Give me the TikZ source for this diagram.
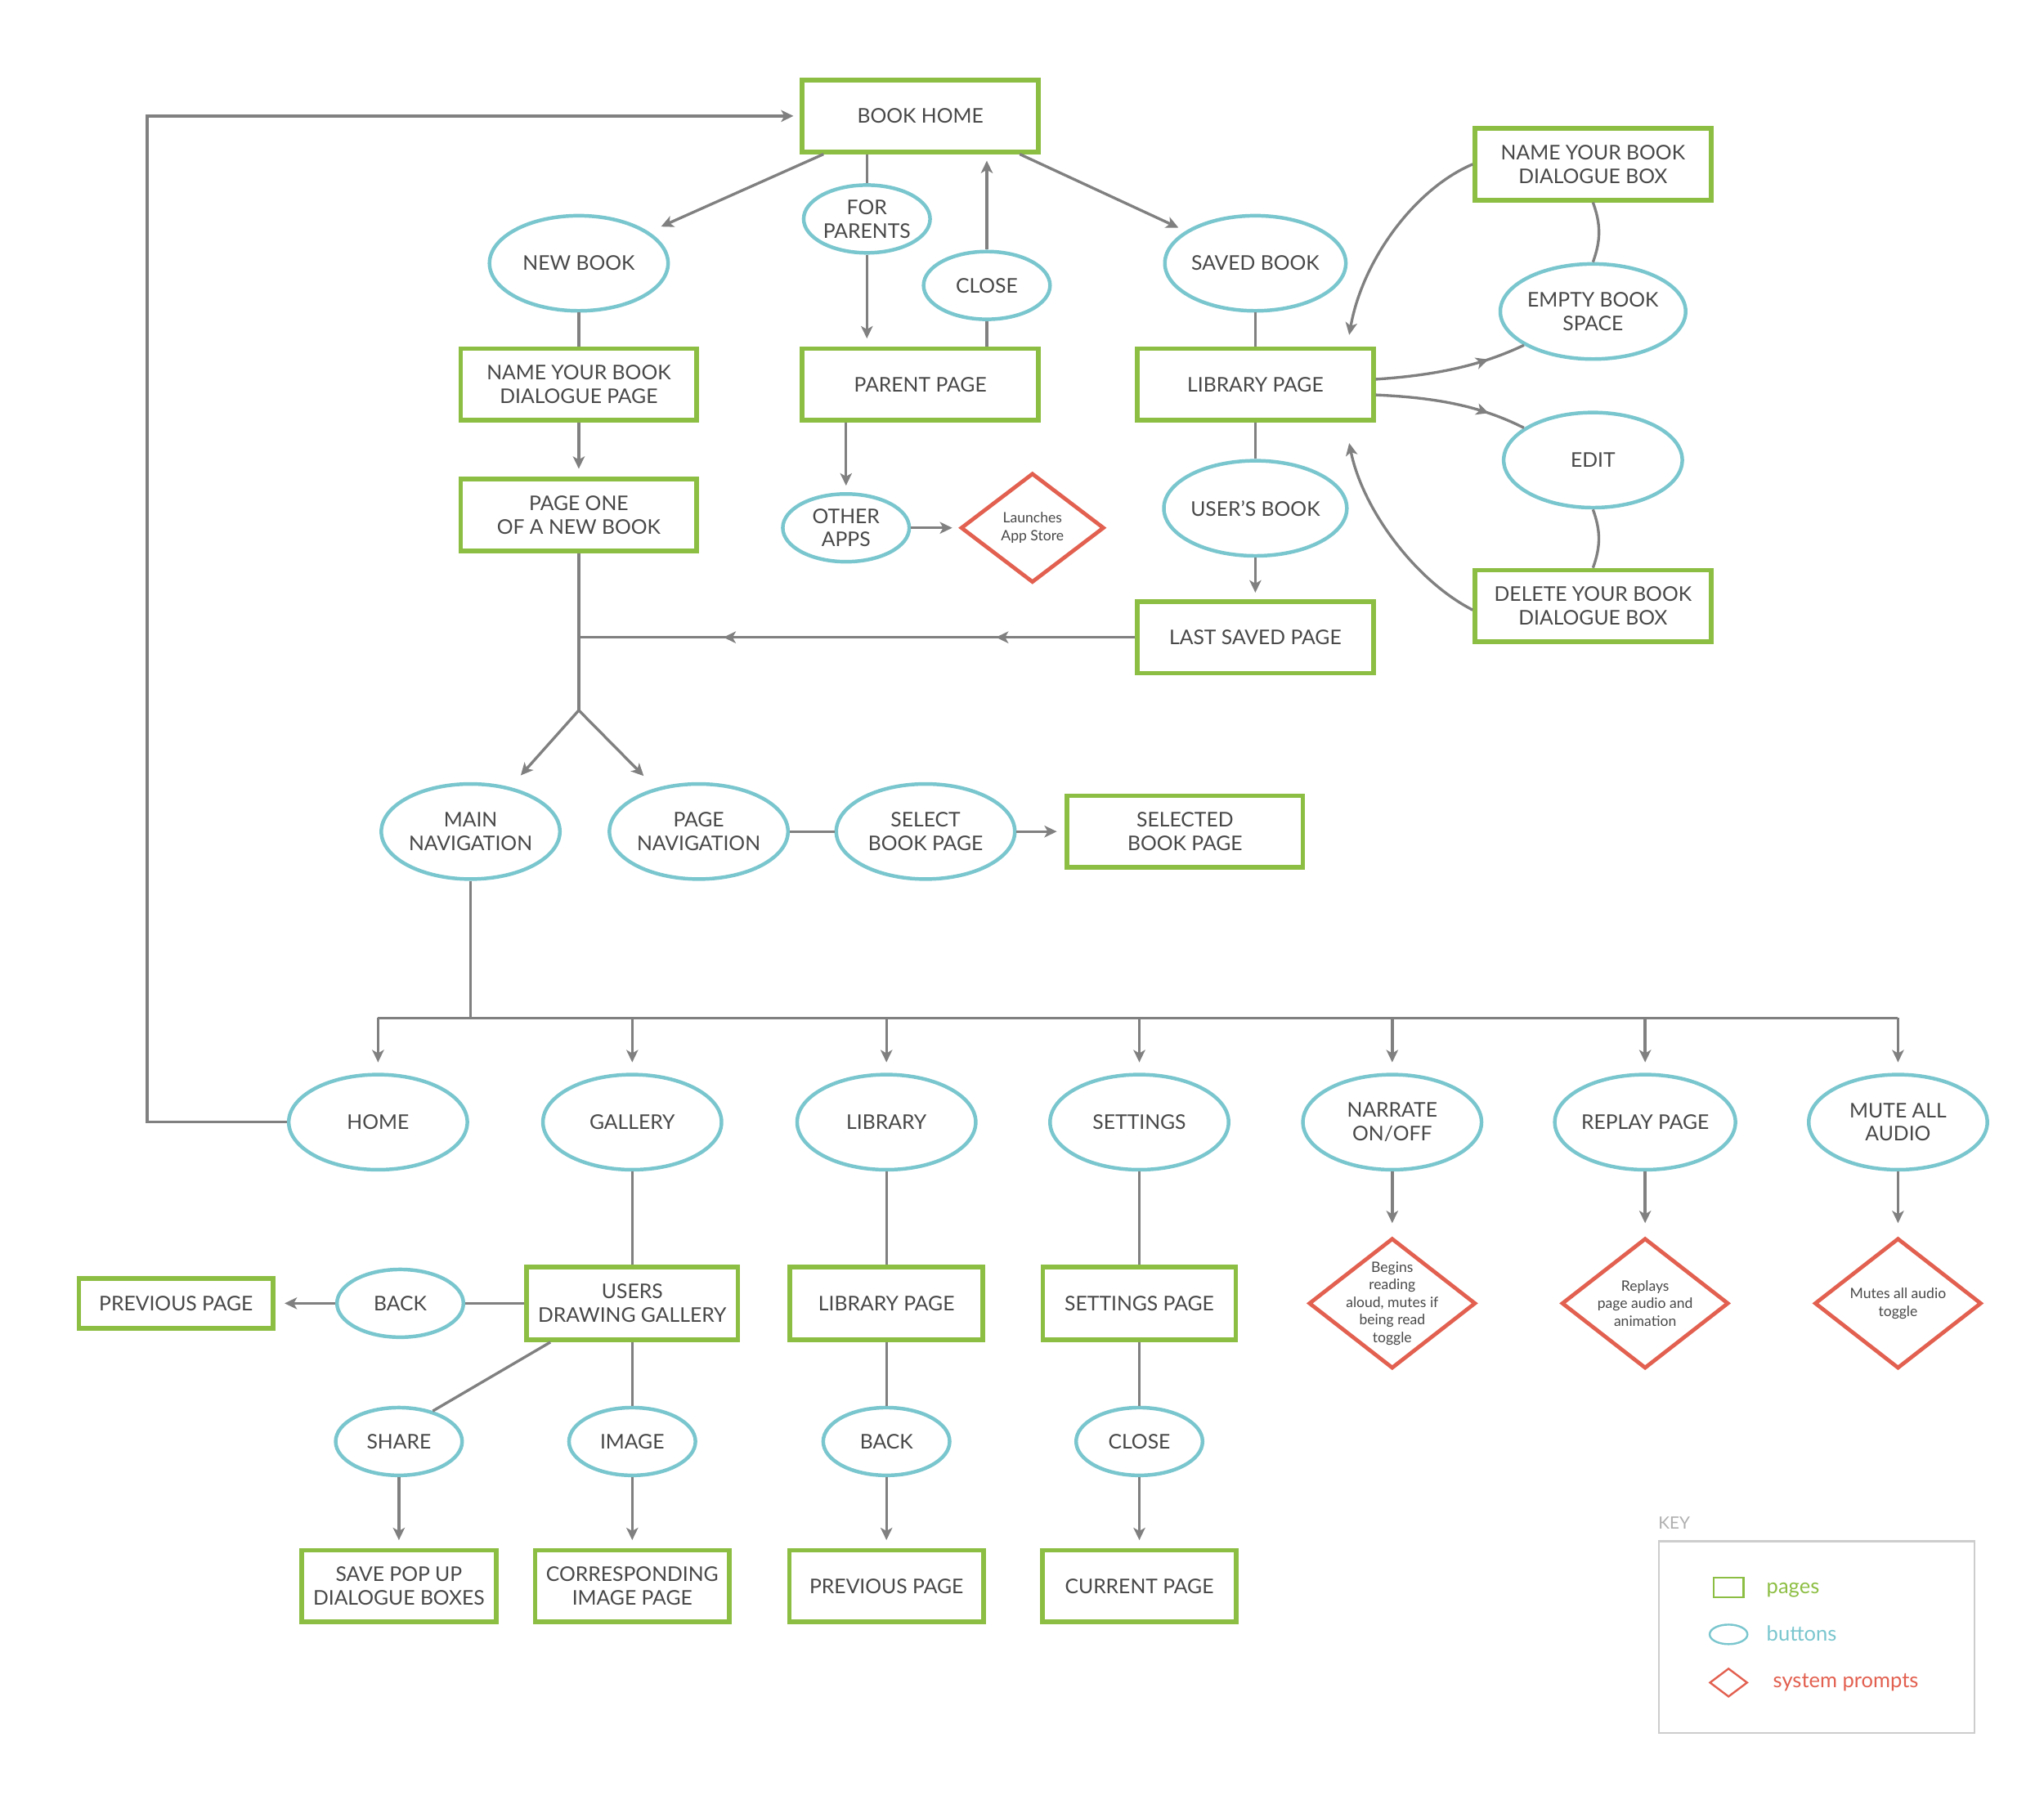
\documentclass[tikz,border=0pt]{standalone}
\usepackage{fontspec}
\setmainfont{Lato}
\usetikzlibrary{shapes.geometric,arrows.meta,decorations.markings,calc}
\definecolor{pgreen}{RGB}{141,190,68}
\definecolor{bblue}{RGB}{122,198,206}
\definecolor{sred}{RGB}{226,96,80}
\definecolor{cgray}{RGB}{128,128,128}
\definecolor{tgray}{RGB}{72,72,72}
\definecolor{kgray}{RGB}{205,205,205}
\definecolor{ktgray}{RGB}{175,175,175}
\newcommand{\mytip}{\arrow[cgray]{Stealth[length=9.5pt,width=9pt,inset=2.5pt]}}
\begin{document}
\begin{tikzpicture}[x=1pt,y=-1pt,
  lbl/.style={text=tgray, font=\fontsize{15.5}{18}\selectfont, align=center, inner sep=0pt},
  page/.style={lbl, draw=pgreen, line width=3.6pt, rectangle, minimum width=181pt, minimum height=55pt},
  btn/.style={lbl, draw=bblue, line width=2.8pt, ellipse, minimum width=137pt, minimum height=73pt},
  sbtn/.style={btn, minimum width=97pt, minimum height=52pt},
  prompt/.style={draw=sred, line width=3pt, diamond, inner sep=0pt},
  bigprompt/.style={prompt, minimum width=128pt, minimum height=100pt},
  ptext/.style={lbl, font=\fontsize{11}{13.5}\selectfont},
  conn/.style={draw=cgray, line width=2.1pt},
  arr/.style={conn, -{Stealth[length=9.5pt,width=9pt,inset=2.5pt]}},
  midarrow/.style={postaction={decorate}, decoration={markings, mark=at position #1 with {\mytip}}},
  twoarrows/.style={postaction={decorate}, decoration={markings, mark=at position 0.25 with {\mytip}, mark=at position 0.74 with {\mytip}}},
]
\useasboundingbox (0,0) rectangle (1568,1381);

% ---------- top part ----------
\node[page] (bh) at (706,89) {BOOK HOME};
\node[btn] (nb) at (444,202) {NEW BOOK};
\node[sbtn] (fp) at (665,168) {FOR\\PARENTS};
\node[sbtn] (cl) at (757,219) {CLOSE};
\node[btn] (sb) at (963,202) {SAVED BOOK};
\node[page] (nydp) at (444,295) {NAME YOUR BOOK\\DIALOGUE PAGE};
\node[page] (pp) at (706,295) {PARENT PAGE};
\node[page] (lp) at (963,295) {LIBRARY PAGE};
\node[page] (nybb) at (1222,126) {NAME YOUR BOOK\\DIALOGUE BOX};
\node[btn] (ebs) at (1222,239) {EMPTY BOOK\\SPACE};
\node[btn] (ed) at (1222,353) {EDIT};
\node[page] (dybb) at (1222,465) {DELETE YOUR BOOK\\DIALOGUE BOX};
\node[page] (p1) at (444,395) {PAGE ONE\\OF A NEW BOOK};
\node[sbtn] (oa) at (649,405) {OTHER\\APPS};
\node[prompt, minimum width=110pt, minimum height=84pt] (las) at (792,405) {};
\node[ptext] (lastxt) at (las) {Launches\\App Store};
\node[btn] (ub) at (963,390) {USER’S BOOK};
\node[page] (lsp) at (963,489) {LAST SAVED PAGE};

% ---------- navigation ----------
\node[btn] (mn) at (361,638) {MAIN\\NAVIGATION};
\node[btn] (pn) at (536,638) {PAGE\\NAVIGATION};
\node[btn] (sbp) at (710,638) {SELECT\\BOOK PAGE};
\node[page] (sdbp) at (909,638) {SELECTED\\BOOK PAGE};

% ---------- bottom buttons ----------
\node[btn] (home) at (290,861) {HOME};
\node[btn] (gal) at (485,861) {GALLERY};
\node[btn] (lib) at (680,861) {LIBRARY};
\node[btn] (set) at (874,861) {SETTINGS};
\node[btn] (nar) at (1068,861) {NARRATE\\ON/OFF};
\node[btn] (rep) at (1262,861) {REPLAY PAGE};
\node[btn] (mute) at (1456,861) {MUTE ALL\\AUDIO};

\node[page, minimum width=162pt, minimum height=56pt] (udg) at (485,1000) {USERS\\DRAWING GALLERY};
\node[page, minimum width=148pt, minimum height=56pt] (lpg) at (680,1000) {LIBRARY PAGE};
\node[page, minimum width=148pt, minimum height=56pt] (spg) at (874,1000) {SETTINGS PAGE};
\node[bigprompt] (d1) at (1068,1000) {};
\node[ptext] (d1t) at (d1) {Begins\\reading\\aloud, mutes if\\being read\\toggle};
\node[bigprompt] (d2) at (1262,1000) {};
\node[ptext] (d2t) at (d2) {Replays\\page audio and\\animation};
\node[bigprompt] (d3) at (1456,1000) {};
\node[ptext] (d3t) at (d3) {Mutes all audio\\toggle};
\node[sbtn] (bk1) at (307,1000) {BACK};
\node[page, minimum width=149pt, minimum height=38pt] (pv1) at (135,1000) {PREVIOUS PAGE};
\node[sbtn] (sh) at (306,1106) {SHARE};
\node[sbtn] (im) at (485,1106) {IMAGE};
\node[sbtn] (bk2) at (680,1106) {BACK};
\node[sbtn] (cl2) at (874,1106) {CLOSE};
\node[page, minimum width=149pt] (spu) at (306,1217) {SAVE POP UP\\DIALOGUE BOXES};
\node[page, minimum width=149pt] (cip) at (485,1217) {CORRESPONDING\\IMAGE PAGE};
\node[page, minimum width=149pt] (pv2) at (680,1217) {PREVIOUS PAGE};
\node[page, minimum width=149pt] (cur) at (874,1217) {CURRENT PAGE};

% ---------- key ----------
\node[draw=kgray, line width=1.5pt, minimum width=242pt, minimum height=147pt, inner sep=0pt] (key) at (1393.5,1256) {};
\node[text=ktgray, font=\fontsize{13}{15}\selectfont, anchor=base west, inner sep=0pt] (keyt) at (1272,1173) {KEY};
\node[draw=pgreen, line width=1.5pt, minimum width=23pt, minimum height=15pt, inner sep=0pt] (kp) at (1326,1218) {};
\node[draw=bblue, ellipse, line width=1.5pt, minimum width=29pt, minimum height=15pt, inner sep=0pt] (kb) at (1326,1254) {};
\node[draw=sred, diamond, line width=1.5pt, minimum width=29pt, minimum height=22pt, inner sep=0pt] (ks) at (1326,1291) {};
\node[text=pgreen, font=\fontsize{16}{18}\selectfont, anchor=base west, inner sep=0pt] (kpt) at (1355,1223) {pages};
\node[text=bblue, font=\fontsize{16}{18}\selectfont, anchor=base west, inner sep=0pt] (kbt) at (1355,1259) {buttons};
\node[text=sred, font=\fontsize{16}{18}\selectfont, anchor=base west, inner sep=0pt] (kst) at (1360,1295) {system prompts};

% ---------- connectors: top ----------
\draw[arr, shorten >=10pt] ([xshift=18pt]bh.south west) -- (nb);
\draw[arr, shorten >=6pt] ([xshift=-16pt]bh.south east) -- (sb);
\draw[conn] (fp.north) -- (fp.north |- bh.south);
\draw[arr, shorten >=6pt] (fp.south) -- (fp.south |- pp.north);
\draw[conn] (cl.south) -- (cl.south |- pp.north);
\draw[arr, shorten >=5pt] (cl.north) -- (cl.north |- bh.south);
\draw[conn] (nb.south) -- (nydp.north);
\draw[arr, shorten >=6pt] (nydp.south) -- (p1.north);
\draw[arr, shorten >=5pt] (oa.north |- pp.south) -- (oa.north);
\draw[arr, shorten >=5pt] (oa.east) -- (las.west);
\draw[conn] (sb.south) -- (lp.north);
\draw[conn] (lp.south) -- (ub.north);
\draw[arr, shorten >=5pt] (ub.south) -- (lsp.north);

% right side curves
\coordinate (c1) at (1035,257);
\coordinate (c2) at (1035,340);
\draw[arr] (nybb.west) .. controls (1085,145) and (1045,200) .. (c1);
\draw[arr] ([yshift=-3pt]dybb.west) .. controls (1085,445) and (1045,390) .. (c2);
\draw[conn] (nybb.south) to[bend left=20] (ebs.north);
\draw[conn] (ed.south) to[bend left=20] (dybb.north);
\draw[conn, midarrow=0.75] ([yshift=4pt]lp.east) .. controls (1100,288) and (1135,281) .. (ebs.206);
\draw[conn, midarrow=0.75] ([yshift=-8pt]lp.east) .. controls (1100,305) and (1135,311) .. (ed.155);

% last saved page back to main flow
\coordinate (j1) at (p1.south |- lsp.west);
\coordinate (j2) at (444,545);
\draw[conn] (p1.south) -- (j2);
\draw[conn, twoarrows] (lsp.west) -- (j1);
\draw[arr, shorten >=12pt] (j2) -- (mn);
\draw[arr, shorten >=13pt] (j2) -- (pn);
\draw[conn] (pn.east) -- (sbp.west);
\draw[arr, shorten >=6pt] (sbp.east) -- (sdbp.west);

% main navigation bus
\coordinate (bus) at (361,781);
\draw[conn] (mn.south) -- (bus);
\draw[conn] (home.north |- bus) -- (mute.north |- bus);
\foreach \n in {home,gal,lib,set,nar,rep,mute}
  \draw[arr, shorten >=8pt] (\n.north |- bus) -- (\n.north);

% home loop back to book home
\coordinate (lx) at (113,859);
\draw[arr, shorten >=5pt] (home.west) -- (home.west -| lx) |- (bh.west);

% ---------- connectors: bottom ----------
\draw[conn] (gal.south) -- (udg.north);
\draw[conn] (lib.south) -- (lpg.north);
\draw[conn] (set.south) -- (spg.north);
\draw[arr, shorten >=10pt] (nar.south) -- (d1.north);
\draw[arr, shorten >=10pt] (rep.south) -- (d2.north);
\draw[arr, shorten >=10pt] (mute.south) -- (d3.north);
\draw[conn] (udg.west) -- (bk1.east);
\draw[arr, shorten >=7pt] (bk1.west) -- (pv1.east);
\draw[conn] ([xshift=20pt]udg.south west) -- (sh.42);
\draw[conn] (udg.south) -- (im.north);
\draw[arr, shorten >=6pt] (sh.south) -- (spu.north);
\draw[arr, shorten >=6pt] (im.south) -- (cip.north);
\draw[conn] (lpg.south) -- (bk2.north);
\draw[arr, shorten >=6pt] (bk2.south) -- (pv2.north);
\draw[conn] (spg.south) -- (cl2.north);
\draw[arr, shorten >=6pt] (cl2.south) -- (cur.north);
\end{tikzpicture}
\end{document}
